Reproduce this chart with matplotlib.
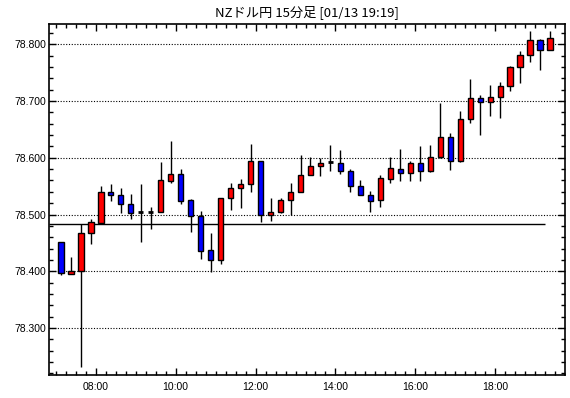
import matplotlib
matplotlib.use("Agg")
from matplotlib import pyplot as plt
from matplotlib.ticker import MultipleLocator, FixedLocator

# 15-minute bars, NZD/JPY
times = ["07:00", "07:15", "07:30", "07:45", "08:00", "08:15", "08:30", "08:45",
         "09:00", "09:15", "09:30", "09:45", "10:00", "10:15", "10:30", "10:45",
         "11:00", "11:15", "11:30", "11:45", "12:00", "12:15", "12:30", "12:45",
         "13:00", "13:15", "13:30", "13:45", "14:00", "14:15", "14:30", "14:45",
         "15:00", "15:15", "15:30", "15:45", "16:00", "16:15", "16:30", "16:45",
         "17:00", "17:15", "17:30", "17:45", "18:00", "18:15", "18:30", "18:45",
         "19:00", "19:15"]
opens = [78.452, 78.396, 78.401, 78.467, 78.485, 78.540, 78.535, 78.519, 78.504, 78.505,
         78.505, 78.559, 78.571, 78.525, 78.498, 78.437, 78.419, 78.530, 78.547, 78.554,
         78.595, 78.500, 78.505, 78.525, 78.540, 78.570, 78.586, 78.592, 78.591, 78.577,
         78.551, 78.535, 78.525, 78.563, 78.581, 78.574, 78.591, 78.577, 78.601, 78.637,
         78.594, 78.668, 78.705, 78.698, 78.707, 78.726, 78.760, 78.781, 78.807, 78.790]
highs = [78.452, 78.425, 78.484, 78.493, 78.551, 78.553, 78.547, 78.537, 78.553, 78.514,
         78.592, 78.629, 78.580, 78.527, 78.507, 78.467, 78.530, 78.555, 78.562, 78.625,
         78.595, 78.529, 78.530, 78.556, 78.605, 78.602, 78.599, 78.623, 78.613, 78.581,
         78.561, 78.541, 78.570, 78.602, 78.615, 78.595, 78.620, 78.623, 78.697, 78.643,
         78.683, 78.739, 78.711, 78.729, 78.733, 78.762, 78.788, 78.823, 78.809, 78.823]
lows = [78.394, 78.395, 78.231, 78.448, 78.485, 78.524, 78.502, 78.492, 78.452, 78.475,
        78.505, 78.555, 78.519, 78.469, 78.422, 78.398, 78.412, 78.508, 78.512, 78.540,
        78.487, 78.488, 78.502, 78.500, 78.540, 78.570, 78.568, 78.577, 78.571, 78.540,
        78.534, 78.505, 78.514, 78.556, 78.559, 78.559, 78.559, 78.575, 78.600, 78.578,
        78.593, 78.662, 78.641, 78.673, 78.671, 78.717, 78.731, 78.768, 78.754, 78.790]
closes = [78.397, 78.401, 78.467, 78.486, 78.540, 78.535, 78.519, 78.503, 78.504, 78.505,
          78.560, 78.572, 78.524, 78.498, 78.436, 78.419, 78.530, 78.547, 78.554, 78.595,
          78.500, 78.505, 78.525, 78.540, 78.570, 78.586, 78.591, 78.592, 78.577, 78.550,
          78.534, 78.523, 78.564, 78.582, 78.573, 78.591, 78.577, 78.602, 78.637, 78.595,
          78.669, 78.705, 78.698, 78.708, 78.726, 78.760, 78.781, 78.807, 78.790, 78.812]
ref_level = 78.4825
title = "NZドル円 15分足 [01/13 19:19]"

# bar start time in hours, candle drawn in the middle of its 15 min slot
x = [int(t[:2]) + int(t[3:]) / 60 + 7.5 / 60 for t in times]

plt.rcParams["font.family"] = ["Liberation Sans", "Noto Sans CJK JP"]

fig = plt.figure(figsize=(5.7, 3.98), dpi=100)
ax = fig.add_axes([49 / 570, 23 / 398, 516 / 570, 351 / 398])

ax.set_xlim(6.831, 19.744)
ax.set_ylim(78.2172, 78.8358)

# dotted grid on the major price levels
for lvl in [78.3, 78.4, 78.5, 78.6, 78.7, 78.8]:
    ax.axhline(lvl, color="black", lw=0.8, linestyle=(0, (1, 1.5)), zorder=1)

# reference line
ax.hlines(ref_level, 6.831, 19.25, color="black", lw=1.0, zorder=2)

width = 0.14
for xi, o, h, l, c in zip(x, opens, highs, lows, closes):
    ax.vlines(xi, l, h, color="black", lw=1.0, zorder=3)
    if abs(c - o) < 0.0015:
        ax.hlines(o, xi - width / 2, xi + width / 2, color="black", lw=2.0, zorder=4)
        continue
    col = "#ff0000" if c > o else "#0000ff"
    ax.bar(xi, c - o, bottom=o, width=width, color=col, edgecolor="black",
           linewidth=1.0, zorder=4)

ax.set_title(title, fontsize=9.5, pad=6, family=["Noto Sans CJK JP", "DejaVu Sans"])

ax.xaxis.set_major_locator(FixedLocator([8, 10, 12, 14, 16, 18]))
ax.set_xticklabels(["08:00", "10:00", "12:00", "14:00", "16:00", "18:00"])
ax.xaxis.set_minor_locator(MultipleLocator(0.25))
ax.yaxis.set_major_locator(MultipleLocator(0.1))
ax.yaxis.set_minor_locator(MultipleLocator(0.02))
ax.yaxis.set_major_formatter(plt.FormatStrFormatter("%.3f"))

ax.tick_params(which="both", direction="in", top=True, right=True,
               labelsize=7.5, width=1.0, color="black")
ax.tick_params(which="major", length=5)
ax.tick_params(which="minor", length=3)
ax.tick_params(axis="x", pad=5)
ax.tick_params(axis="y", pad=2)

for sp in ax.spines.values():
    sp.set_linewidth(1.2)

fig.savefig("out.png", dpi=100)
